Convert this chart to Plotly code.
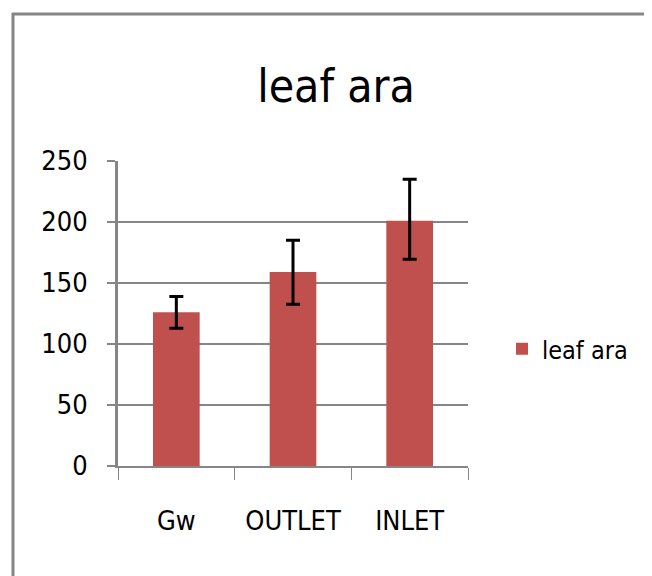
import plotly.graph_objects as go

categories = ["Gw", "OUTLET", "INLET"]
values = [126, 159, 201]
err_plus = [13, 26, 34]
err_minus = [13, 26.5, 31.5]
y_ticks = [0, 50, 100, 150, 200, 250]
series_name = "leaf ara"
title_text = "leaf ara"

OFF = 8  # page body margin
W, H = 652 - OFF, 576 - OFF
L, T = 118 - OFF, 161 - OFF
R = W - L - 350
B = H - T - 305
pw, ph = W - L - R, H - T - B

def px_x(x):
    return (x - OFF - L) / pw

def px_y(y):
    return 1 - (y - OFF - T) / ph

FONT = "DejaVu Sans Condensed, Lato, Arial"

fig = go.Figure()
fig.add_trace(go.Bar(
    x=categories, y=values, name=series_name,
    marker=dict(color="#C0504D", line=dict(width=0)),
    width=0.4,
    error_y=dict(type="data", symmetric=False, array=err_plus, arrayminus=err_minus,
                 color="black", thickness=3, width=7),
))

fig.update_layout(
    width=W, height=H,
    margin=dict(l=L, r=R, t=T, b=B, autoexpand=False),
    paper_bgcolor="white", plot_bgcolor="white",
    title=dict(text=title_text, x=(336 - OFF) / W, xanchor="center",
               y=1 - (86 - OFF) / H, yanchor="middle",
               font=dict(family=FONT, size=46, color="black")),
    showlegend=True,
    legend=dict(x=px_x(502), y=px_y(349), xanchor="left", yanchor="middle",
                font=dict(family=FONT, size=25, color="black"),
                itemwidth=30, bgcolor="rgba(0,0,0,0)"),
    font=dict(family=FONT, color="black"),
)
fig.update_xaxes(
    showline=True, linecolor="#868686", linewidth=2,
    ticks="outside", tickson="boundaries", ticklen=12, tickcolor="#868686", tickwidth=1,
    tickfont=dict(family=FONT, size=27, color="black"),
    ticklabelstandoff=30, showgrid=False,
)
fig.update_yaxes(
    range=[0, 250], tickvals=y_ticks,
    showline=True, linecolor="#868686", linewidth=3,
    ticks="outside", ticklen=8, tickcolor="#868686", tickwidth=2,
    showgrid=True, gridcolor="#868686", gridwidth=2,
    tickfont=dict(family=FONT, size=27, color="black"),
    ticklabelstandoff=14, zeroline=False,
)

# outer chart frame (left and top edges visible)
fig.add_shape(type="line", xref="paper", yref="paper",
              x0=px_x(13), x1=px_x(13), y0=px_y(13), y1=px_y(590),
              line=dict(color="#868686", width=3))
fig.add_shape(type="line", xref="paper", yref="paper",
              x0=px_x(12), x1=px_x(670), y0=px_y(14), y1=px_y(14),
              line=dict(color="#868686", width=3))

fig.write_html("out.html")
